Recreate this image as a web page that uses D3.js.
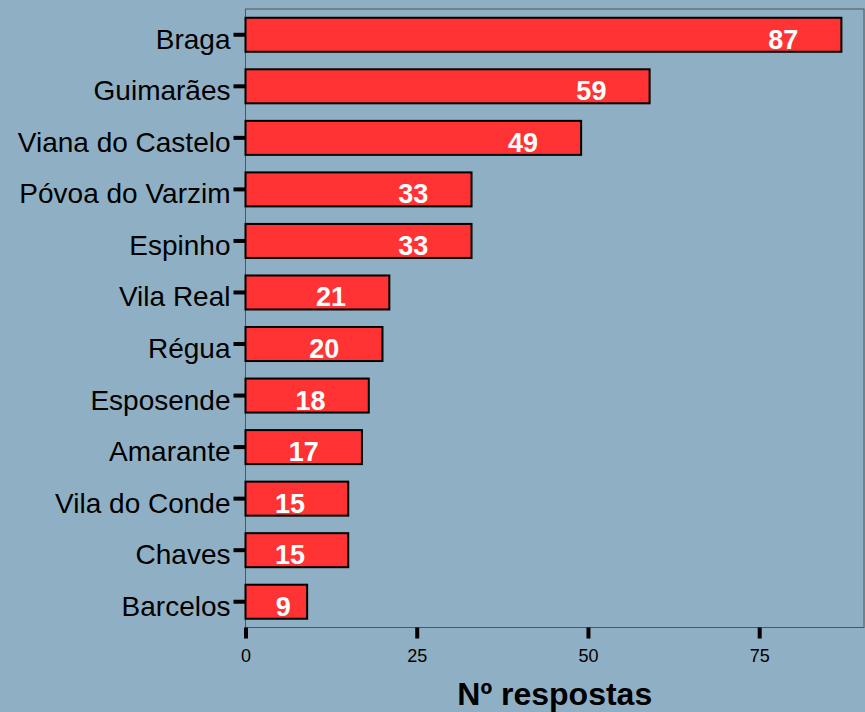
<!DOCTYPE html>
<html>
<head>
<meta charset="utf-8">
<script src="https://cdn.jsdelivr.net/npm/d3@7"></script>
<style>
  body { margin: 0; background: #8fb0c4; }
  svg { display: block; }
  text { font-family: "Liberation Sans", Arial, sans-serif; }
</style>
</head>
<body>
<svg id="chart"></svg>
<script>
var cities = ["Braga", "Guimarães", "Viana do Castelo", "Póvoa do Varzim", "Espinho",
  "Vila Real", "Régua", "Esposende", "Amarante", "Vila do Conde", "Chaves", "Barcelos"]
var counts = [87, 59, 49, 33, 33, 21, 20, 18, 17, 15, 15, 9]
var xTicks = [0, 25, 50, 75]

var width = 865, height = 712
var panelLeft = 245.5, panelRight = 864, panelTop = 9, panelBottom = 627.5

var svg = d3.select("#chart")
  .attr("width", width)
  .attr("height", height)

svg.append("rect")
  .attr("width", width)
  .attr("height", height)
  .attr("fill", "#8fb0c4")

var x = d3.scaleLinear()
  .domain([0, 90.3])
  .range([panelLeft, panelRight])

var y = d3.scaleBand()
  .domain(cities)
  .range([panelTop, panelBottom])
  .paddingInner(0.34)
  .paddingOuter(0.17)

var data = cities.map(function(c, i) {
  return { city: c, n: counts[i] }
})

// panel border
svg.append("rect")
  .attr("x", panelLeft)
  .attr("y", panelTop)
  .attr("width", panelRight - panelLeft)
  .attr("height", panelBottom - panelTop)
  .attr("fill", "none")
  .attr("stroke", "#555")
  .attr("stroke-width", 1)

svg.append("g")
  .selectAll("rect")
  .data(data)
  .enter()
  .append("rect")
  .attr("x", x(0))
  .attr("y", function(d) { return y(d.city) })
  .attr("width", function(d) { return x(d.n) - x(0) })
  .attr("height", y.bandwidth())
  .attr("fill", "#ff3333")
  .attr("stroke", "black")
  .attr("stroke-width", 2)

svg.append("g")
  .selectAll("text")
  .data(data)
  .enter()
  .append("text")
  .attr("x", function(d) { return x(Math.max(d.n - 8.5, 5.5)) })
  .attr("y", function(d) { return y(d.city) + y.bandwidth() / 2 + 14 })
  .attr("text-anchor", "middle")
  .attr("fill", "white")
  .attr("font-weight", "bold")
  .attr("font-size", "27px")
  .text(function(d) { return d.n })

// y axis
var yAxis = svg.append("g")
  .attr("transform", "translate(" + panelLeft + ",0)")
  .call(d3.axisLeft(y).tickSize(12).tickPadding(3))
yAxis.select(".domain").remove()
yAxis.selectAll(".tick line").attr("stroke", "black").attr("stroke-width", 4)
yAxis.selectAll(".tick text")
  .attr("fill", "black")
  .attr("font-size", "28px")
  .attr("font-family", "Liberation Sans, Arial, sans-serif")
  .attr("dy", "0.5em")

// x axis
var xAxis = svg.append("g")
  .attr("transform", "translate(0," + panelBottom + ")")
  .call(d3.axisBottom(x).tickValues(xTicks).tickSize(11).tickPadding(11))
xAxis.select(".domain").remove()
xAxis.selectAll(".tick line").attr("stroke", "black").attr("stroke-width", 4)
xAxis.selectAll(".tick text")
  .attr("fill", "black")
  .attr("font-size", "18px")
  .attr("font-family", "Liberation Sans, Arial, sans-serif")

svg.append("text")
  .attr("x", (panelLeft + panelRight) / 2)
  .attr("y", 705)
  .attr("text-anchor", "middle")
  .attr("font-weight", "bold")
  .attr("font-size", "32px")
  .text("Nº respostas")
</script>
</body>
</html>
